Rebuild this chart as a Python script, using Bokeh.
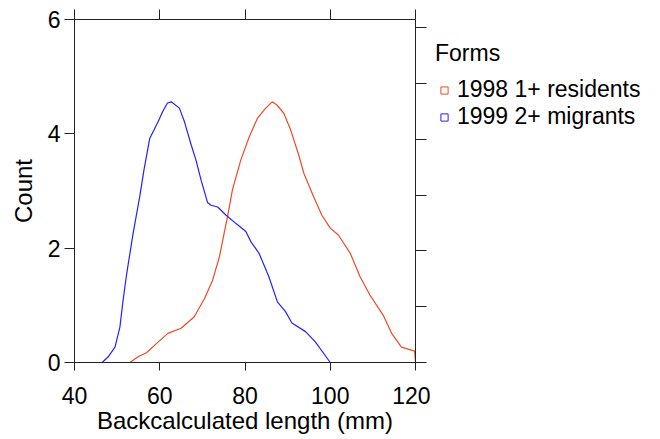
from bokeh.plotting import figure
from bokeh.layouts import row
from bokeh.models import (Range1d, LinearAxis, FixedTicker, Legend, LegendItem,
                          CustomLabelingPolicy)
from bokeh.embed import file_html
from bokeh.resources import INLINE

# 1999 2+ migrants (blue)
mig_x = [40, 46.5, 47.9, 49.5, 50.65, 51.4, 52.2, 53, 53.75, 55.3, 56.3, 57.65,
         59.6, 60.7, 61.8, 62.7, 64.6, 65.8, 67.4, 68.5, 69.7, 71.2, 72, 73.6,
         75.5, 77.9, 80.2, 81.4, 83.3, 85.6, 87.6, 89.5, 91, 94.2, 96.5, 100, 120]
mig_y = [0, 0, 0.1, 0.27, 0.62, 1.09, 1.53, 1.91, 2.26, 2.9, 3.37, 3.92,
         4.21, 4.39, 4.54, 4.56, 4.45, 4.21, 3.8, 3.54, 3.19, 2.8, 2.75, 2.72,
         2.58, 2.43, 2.29, 2.11, 1.91, 1.5, 1.06, 0.89, 0.69, 0.54, 0.36, 0, 0]

# 1998 1+ residents (red)
res_x = [40, 53, 54.9, 56.9, 59.2, 61.9, 65, 68.1, 70.5, 72.4, 74, 75.1, 75.9,
         77.05, 79, 81, 82.9, 84.85, 86.4, 87.55, 89.1, 90.7, 92.6, 93.8, 96.1,
         98, 100, 101.9, 104.7, 107, 109.3, 112.4, 114.4, 116.7, 119.8, 120]
res_y = [0, 0, 0.1, 0.17, 0.33, 0.51, 0.6, 0.8, 1.12, 1.44, 1.85, 2.26, 2.55,
         3.02, 3.54, 3.95, 4.27, 4.45, 4.56, 4.5, 4.36, 4.07, 3.63, 3.31, 2.9,
         2.58, 2.35, 2.23, 1.91, 1.5, 1.18, 0.83, 0.51, 0.27, 0.2, 0]

x_ticks = [40, 60, 80, 100, 120]
y_ticks = [0, 2, 4, 6]
right_ticks = [0, 1, 2, 3, 4, 5, 6]
series_names = ["1998 1+ residents", "1999 2+ migrants"]
legend_title = "Forms"

RED = "#f04a24"
BLUE = "#2222ff"
FONT = "Liberation Sans"
AX = "#222222"

p = figure(width=430, height=439, output_backend="svg", toolbar_location=None,
           x_range=Range1d(40, 120), y_range=Range1d(0, 6),
           min_border_left=74, min_border_right=12, min_border_top=19,
           min_border_bottom=77, x_axis_location=None, y_axis_location=None)
p.outline_line_color = None
p.grid.visible = False
p.background_fill_color = "white"
p.border_fill_color = "white"

p.extra_y_ranges = {"right": Range1d(0, 6.147)}

no_labels = CustomLabelingPolicy(code="return new Set()")


def style(ax, labels=True):
    ax.axis_line_color = AX
    ax.major_tick_line_color = AX
    ax.minor_tick_line_color = None
    ax.major_tick_in = 0
    ax.major_label_text_font = FONT
    ax.axis_label_text_font = FONT
    ax.axis_label_text_font_style = "normal"
    ax.axis_label_text_color = "black"
    ax.major_label_text_color = "black"
    ax.major_label_text_font_size = "23px"
    ax.axis_label_text_font_size = "24px"
    if not labels:
        ax.major_label_policy = no_labels
        ax.major_label_text_font_size = "1px"
        ax.major_label_standoff = 0


left = LinearAxis(ticker=FixedTicker(ticks=y_ticks), axis_label="Count")
style(left)
left.major_tick_out = 10
left.major_label_standoff = 4
left.axis_label_standoff = 8
p.add_layout(left, "left")

bottom = LinearAxis(ticker=FixedTicker(ticks=x_ticks),
                    axis_label="Backcalculated length (mm)")
style(bottom)
bottom.major_tick_out = 8
bottom.major_label_standoff = 16
bottom.axis_label_standoff = 0
p.add_layout(bottom, "below")

top = LinearAxis(ticker=FixedTicker(ticks=x_ticks))
style(top, labels=False)
top.major_tick_out = 10
p.add_layout(top, "above")

right = LinearAxis(ticker=FixedTicker(ticks=right_ticks), y_range_name="right")
style(right, labels=False)
right.major_tick_out = 11
p.add_layout(right, "right")

p.line(res_x, res_y, line_color=RED, line_width=1.2)
p.line(mig_x, mig_y, line_color=BLUE, line_width=1.2)

# legend panel (its range excludes the data, so only the legend glyphs show)
lg = figure(width=230, height=439, output_backend="svg", toolbar_location=None,
            x_range=Range1d(0, 1), y_range=Range1d(0, 1),
            min_border=0, x_axis_location=None, y_axis_location=None)
lg.outline_line_color = None
lg.grid.visible = False
lg.background_fill_color = "white"
lg.border_fill_color = "white"

r_res = lg.scatter(res_x, res_y, marker="square", size=7,
                   line_color=RED, fill_color=None, line_width=1)
r_mig = lg.scatter(mig_x, mig_y, marker="square", size=7,
                   line_color=BLUE, fill_color=None, line_width=1)

legend = Legend(items=[LegendItem(label=series_names[0], renderers=[r_res]),
                       LegendItem(label=series_names[1], renderers=[r_mig])],
                title=legend_title, title_text_font=FONT,
                title_text_font_size="23px", title_text_font_style="normal",
                title_text_color="black", title_standoff=9,
                location=(5, 232), margin=0, padding=0, spacing=0,
                glyph_width=18, glyph_height=24, label_height=24,
                label_standoff=4, label_text_font=FONT,
                label_text_color="black", label_text_line_height=0.9,
                label_text_font_size="23px", border_line_color=None,
                background_fill_color=None)
lg.add_layout(legend, "center")

layout = row(p, lg, spacing=0)
open("out.html", "w").write(file_html(layout, INLINE))
